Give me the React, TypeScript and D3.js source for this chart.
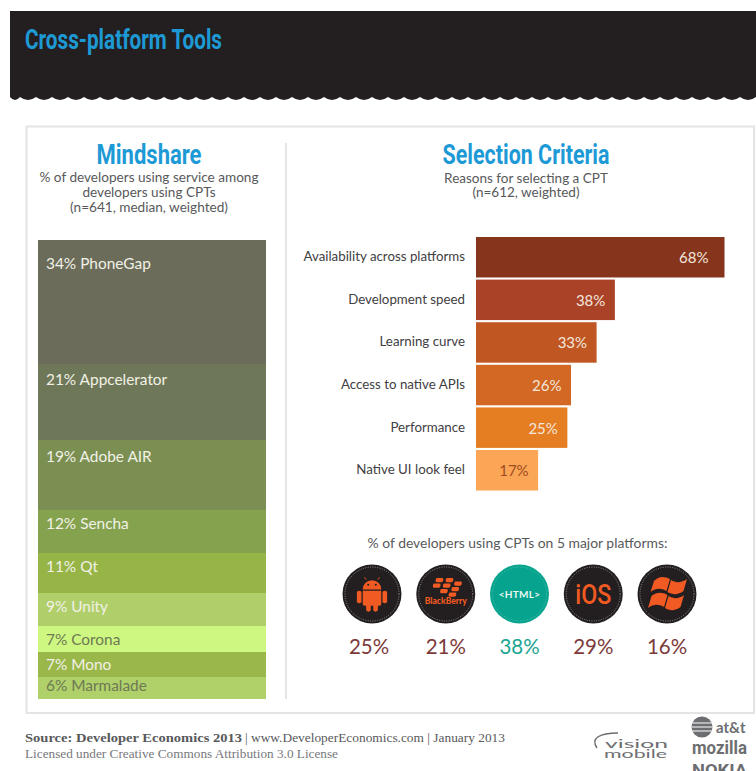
import React from "react";
import * as d3 from "d3";

// Mindshare: share of developers per tool
const toolNames = ["PhoneGap", "Appcelerator", "Adobe AIR", "Sencha", "Qt", "Unity", "Corona", "Mono", "Marmalade"];
const toolValues = [34, 21, 19, 12, 11, 9, 7, 7, 6];
const toolFills = ["#6b6d5a", "#6e7757", "#7b8f53", "#85a24e", "#97b547", "#b0cf6b", "#cdf780", "#9ab84a", "#b0d06a"];
const toolInk = ["#f1f1e6", "#f1f1e6", "#f1f1e6", "#f1f1e6", "#f1f1e6", "#f1f1e6", "#6d7a55", "#f1f1e6", "#6d7a55"];
// Baseline drop of each tool label below the top of its band
const toolLabelDrop = [29, 21, 22, 19, 19, 19, 19, 18, 14];

// Selection criteria: reasons for choosing a tool
const criteria = ["Availability across platforms", "Development speed", "Learning curve", "Access to native APIs", "Performance", "Native UI look feel"];
const criteriaValues = [68, 38, 33, 26, 25, 17];
const criteriaFills = ["#86341c", "#aa4227", "#c05722", "#d26823", "#e57d22", "#fba657"];
const criteriaInk = ["#f3e6dc", "#f3e6dc", "#f3e6dc", "#f3e6dc", "#f3e6dc", "#a04a20"];

// Platform usage
const platforms = ["Android", "BlackBerry", "HTML", "iOS", "Windows"];
const platformValues = [25, 21, 38, 29, 16];

const BODY = "'Lato', 'Open Sans', sans-serif";
const NARROW = "'Liberation Sans Narrow', 'Roboto', sans-serif";
const SERIF = "'Liberation Serif', serif";
const BLUE = "#1d9ad6";
const ORANGE = "#f15a22";
const MAROON = "#7d3a3a";
const TEAL = "#1aa591";

const W = 756;
const H = 771;

// Scalloped lower edge of the dark header band
function headerPath(): string {
  const step = 16;
  const left = 10;
  const top = 11;
  const base = 97;
  let p = `M${left},${top}L${W},${top}L${W},${base}`;
  for (let x = W; x > left; x -= step) {
    const next = Math.max(x - step, left);
    p += `Q${(x + next) / 2},${base + 6} ${next},${base}`;
  }
  return p + "Z";
}

function Badge({ name, cx, cy }: { name: string; cx: number; cy: number }) {
  const teal = name === "HTML";
  const r = 29.5;
  return (
    <g transform={`translate(${cx},${cy})`}>
      <circle r={r} fill={teal ? "#06a48e" : "#231f20"} />
      <circle r={r - 2.5} fill="none" stroke="#d8d8d8" strokeWidth={0.7} strokeDasharray="1 1.4" opacity={teal ? 0.5 : 0.8} />
      {name === "Android" && (
        <g fill={ORANGE} transform="scale(0.84) translate(0,-1)">
          <path d="M-11,-3A11,11 0 0 1 11,-3Z" transform="translate(0,-1.5)" />
          <path d="M-11,-3H11V13a2,2 0 0 1 -2,2H-9a2,2 0 0 1 -2,-2Z" />
          <rect x={-18} y={-3} width={5.5} height={15} rx={2.5} />
          <rect x={12.5} y={-3} width={5.5} height={15} rx={2.5} />
          <rect x={-7} y={13} width={5.5} height={9} rx={2.5} />
          <rect x={1.5} y={13} width={5.5} height={9} rx={2.5} />
          <path d="M-7,-16L-9,-19M7,-16L9,-19" stroke={ORANGE} strokeWidth={1} />
          <circle cx={-4.5} cy={-10} r={1.2} fill="#231f20" />
          <circle cx={4.5} cy={-10} r={1.2} fill="#231f20" />
        </g>
      )}
      {name === "BlackBerry" && (
        <g fill={ORANGE}>
          {[[-12, -16], [-2, -16], [-14, -10.5], [-4, -10.5], [7, -12.5], [-6, -5], [5, -7], [3, -1.5]].map(([x, y], i) => (
            <rect key={i} x={x} y={y} width={7.5} height={4.2} rx={1.4} transform="skewX(-8)" />
          ))}
          <text y={10} textAnchor="middle" fontFamily={BODY} fontWeight={900} fontSize={9.5} textLength={42} lengthAdjust="spacingAndGlyphs">BlackBerry</text>
        </g>
      )}
      {name === "HTML" && (
        <text y={4} textAnchor="middle" fontFamily={BODY} fontWeight={700} fontSize={10} fill="#e9f7f3" letterSpacing={0.3}>{"<HTML>"}</text>
      )}
      {name === "iOS" && (
        <text y={10} textAnchor="middle" fontFamily="'Roboto', sans-serif" fontWeight={500} fontSize={28} fill={ORANGE} textLength={36} lengthAdjust="spacingAndGlyphs">iOS</text>
      )}
      {name === "Windows" && (
        <g fill={ORANGE}>
          <path d="M-17,-7C-12,-12 -7,-12 -1,-9L-4.5,3C-10,0 -15,0 -20.5,4Z" transform="translate(4,-6)" />
          <path d="M1,-8C6,-5 11,-5 17,-9L13.5,3C8,7 3,7 -2.5,4Z" transform="translate(3,-6)" />
          <path d="M-20.5,6C-15,2 -10,2 -4.5,5L-8,17C-13.5,14 -18.5,14 -24,18Z" transform="translate(5,-4)" />
          <path d="M-2.5,6C3,9 8,9 13,5L9.5,17C4,21 -1,21 -6,18Z" transform="translate(4,-4)" />
        </g>
      )}
    </g>
  );
}

export default function App() {
  // Stacked column: each tool's height is proportional to its share
  const total = d3.sum(toolValues);
  const yStack = d3.scaleLinear().domain([0, total]).range([240, 699]);
  const offsets = d3.cumsum(toolValues);

  // Horizontal bars
  const xBar = d3.scaleLinear().domain([0, 68]).range([476, 724.5]);
  const yBar = d3.scaleBand<string>().domain(criteria).range([237, 490.5]).paddingInner(0.05);

  // Platform badges
  const xBadge = d3.scalePoint<string>().domain(platforms).range([372, 667]);

  return (
    <svg width={W} height={H} viewBox={`0 0 ${W} ${H}`} style={{ position: "absolute", left: 0, top: 0 }}>
      <rect width={W} height={H} fill="#fff" />
      <path d={headerPath()} fill="#231f20" />
      <text x={25} y={49} fontFamily={NARROW} fontWeight={700} fontSize={28} fill={BLUE} textLength={197} lengthAdjust="spacingAndGlyphs">Cross-platform Tools</text>

      {/* Panel frame and divider */}
      <rect x={26.5} y={126.5} width={727.5} height={586.5} fill="#fff" stroke="#e4e4e4" strokeWidth={2} />
      <line x1={286} x2={286} y1={143} y2={699} stroke="#dcdcdc" strokeWidth={1.5} />

      {/* Mindshare column */}
      <text x={149} y={164} textAnchor="middle" fontFamily={NARROW} fontWeight={700} fontSize={28} fill={BLUE} textLength={105} lengthAdjust="spacingAndGlyphs">Mindshare</text>
      <g fontFamily={BODY} fontSize={13.6} fill="#58595b" textAnchor="middle">
        <text x={149} y={182}>% of developers using service among</text>
        <text x={149} y={197}>developers using CPTs</text>
        <text x={149} y={212}>(n=641, median, weighted)</text>
      </g>
      {toolNames.map((name, i) => {
        const y0 = Math.round(yStack(i === 0 ? 0 : offsets[i - 1]));
        const y1 = Math.round(yStack(offsets[i]));
        return (
          <g key={name}>
            <rect x={38} y={y0} width={228} height={y1 - y0} fill={toolFills[i]} />
            <text x={46} y={y0 + toolLabelDrop[i]} fontFamily={BODY} fontSize={15.4} fill={toolInk[i]}>
              {`${toolValues[i]}% ${name}`}
            </text>
          </g>
        );
      })}

      {/* Selection criteria */}
      <text x={526} y={164} textAnchor="middle" fontFamily={NARROW} fontWeight={700} fontSize={28} fill={BLUE} textLength={167} lengthAdjust="spacingAndGlyphs">Selection Criteria</text>
      <g fontFamily={BODY} fontSize={13.5} fill="#58595b" textAnchor="middle">
        <text x={526} y={183}>Reasons for selecting a CPT</text>
        <text x={526} y={197}>(n=612, weighted)</text>
      </g>
      {criteria.map((c, i) => {
        const y = yBar(c)!;
        const bw = yBar.bandwidth();
        return (
          <g key={c}>
            <rect x={xBar(0)} y={y} width={xBar(criteriaValues[i]) - xBar(0)} height={bw} fill={criteriaFills[i]} />
            <text x={465} y={y + bw / 2 + 4} textAnchor="end" fontFamily={BODY} fontSize={13.3} fill="#414042">{c}</text>
            <text x={xBar(criteriaValues[i]) - (i === 0 ? 16 : 9.5)} y={y + bw / 2 + 6} textAnchor="end" fontFamily={BODY} fontSize={15} fill={criteriaInk[i]}>{`${criteriaValues[i]}%`}</text>
          </g>
        );
      })}

      {/* Platform usage */}
      <text x={517.5} y={548} textAnchor="middle" fontFamily={BODY} fontSize={13.9} fill="#58595b">% of developers using CPTs on 5 major platforms:</text>
      {platforms.map((p, i) => (
        <g key={p}>
          <Badge name={p} cx={xBadge(p)!} cy={594} />
          <text x={xBadge(p)! - (i === 0 ? 3 : 0)} y={654} textAnchor="middle" fontFamily={BODY} fontSize={20.5} fill={p === "HTML" ? TEAL : MAROON}>{`${platformValues[i]}%`}</text>
        </g>
      ))}

      {/* Source line */}
      <g fontFamily={SERIF} fontSize={13.2}>
        <text x={25} y={742} fill="#58595b" fontWeight={700} textLength={217} lengthAdjust="spacingAndGlyphs">Source: Developer Economics 2013</text>
        <text x={245} y={742} fill="#58595b" textLength={260} lengthAdjust="spacingAndGlyphs">| www.DeveloperEconomics.com | January 2013</text>
        <text x={25} y={758} fill="#77787b" textLength={313} lengthAdjust="spacingAndGlyphs">Licensed under Creative Commons Attribution 3.0 License</text>
      </g>

      {/* Sponsor marks */}
      <g fill="#6d6e71">
        <path d="M597,748C590,738 600,733 618,733" fill="none" stroke="#6d6e71" strokeWidth={1.4} />
        <text x={605} y={748} fontFamily={BODY} fontSize={11} textLength={63} lengthAdjust="spacingAndGlyphs">vision</text>
        <text x={604} y={758} fontFamily={BODY} fontSize={11} textLength={63} lengthAdjust="spacingAndGlyphs">mobile</text>
        <circle cx={702} cy={727} r={10.5} fill="#6d6e71" />
        <path d="M692,723H712M691.5,727H712.5M692,731H712" stroke="#fff" strokeWidth={1.2} />
        <text x={716} y={733} fontFamily={BODY} fontWeight={700} fontSize={15}>at&amp;t</text>
        <text x={692} y={754} fontFamily={NARROW} fontWeight={700} fontSize={19} textLength={55} lengthAdjust="spacingAndGlyphs">mozilla</text>
        <text x={692} y={776} fontFamily={NARROW} fontWeight={700} fontSize={17} textLength={55} lengthAdjust="spacingAndGlyphs">NOKIA</text>
      </g>
    </svg>
  );
}
